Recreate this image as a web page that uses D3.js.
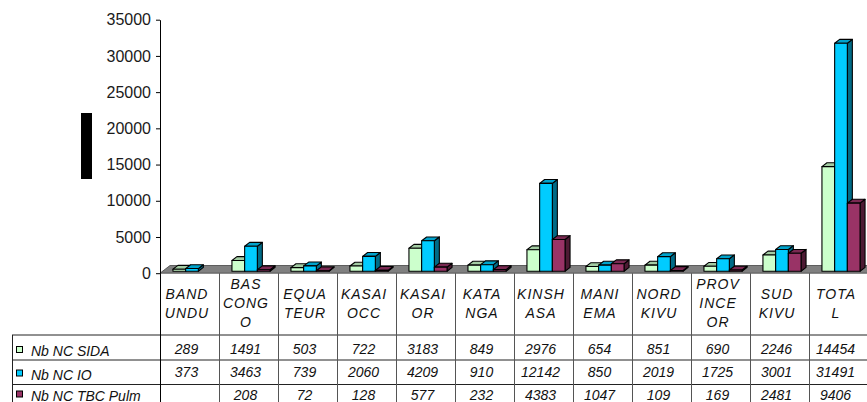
<!DOCTYPE html>
<html>
<head>
<meta charset="utf-8">
<script src="https://cdn.jsdelivr.net/npm/d3@7"></script>
<style>
  html, body { margin: 0; padding: 0; background: #fff; }
  svg { display: block; font-family: "Liberation Sans", Arial, sans-serif; }
</style>
</head>
<body>
<svg id="chart" width="867" height="402"></svg>
<script>
// ---- data ----
const categories = ["BANDUNDU","BAS CONGO","EQUATEUR","KASAI OCC","KASAI OR","KATANGA","KINSHASA","MANIEMA","NORD KIVU","PROVINCE OR","SUD KIVU","TOTAL"];
const categoryLines = [["BAND","UNDU"],["BAS","CONG","O"],["EQUA","TEUR"],["KASAI","OCC"],["KASAI","OR"],["KATA","NGA"],["KINSH","ASA"],["MANI","EMA"],["NORD","KIVU"],["PROV","INCE","OR"],["SUD","KIVU"],["TOTA","L"]];
const seriesNames = ["Nb NC SIDA","Nb NC IO","Nb NC TBC Pulm"];
const sida = [289,1491,503,722,3183,849,2976,654,851,690,2246,14454];
const io   = [373,3463,739,2060,4209,910,12142,850,2019,1725,3001,31491];
const tbc  = [null,208,72,128,577,232,4383,1047,109,169,2481,9406];
const yTicks = [0,5000,10000,15000,20000,25000,30000,35000];

const seriesValues = [sida, io, tbc];
const colors = [
  {front:"#ccffcc", top:"#a3cca3", side:"#7a997a"},
  {front:"#00ccff", top:"#00a3cc", side:"#006b87"},
  {front:"#993366", top:"#7a2952", side:"#4d1a33"}
];

const svg = d3.select("#chart");

// ---- scales ----
const x0 = d3.scaleBand().domain(categories).range([160, 868]).padding(0);
const x1 = d3.scaleBand().domain(seriesNames).range([0, x0.bandwidth()]).paddingInner(0).paddingOuter(0.823);
const y = d3.scaleLinear().domain([0, 35000]).range([273.2, 19.7]);

// 3D depth
const floorDx = 10, floorDy = -7.7;
const shiftX = floorDx * 0.25, shiftY = floorDy * 0.25;
const barDx = floorDx * 0.5, barDy = floorDy * 0.5;

// ---- y axis title block ----
svg.append("rect").attr("x", 81).attr("y", 113).attr("width", 11).attr("height", 66).attr("fill", "#000");

// ---- floor ----
const fx0 = 160, fx1 = 868, fy = y(0);
svg.append("path")
  .attr("d", `M${fx0},${fy} L${fx0+floorDx},${fy+floorDy} L${fx1+floorDx},${fy+floorDy} L${fx1},${fy} Z`)
  .attr("fill", "#808080").attr("stroke", "#444").attr("stroke-width", 0.8);

// ---- bars ----
const barsG = svg.append("g");
categories.forEach((c, ci) => {
  seriesNames.forEach((s, si) => {
    const v = seriesValues[si][ci];
    if (v == null) return;
    const x = x0(c) + x1(s) + shiftX;
    const w = x1.bandwidth();
    const bottom = y(0) + shiftY;
    const top = y(v) + shiftY;
    const col = colors[si];
    const g = barsG.append("g").attr("stroke", "#000").attr("stroke-width", 1.1).attr("stroke-linejoin", "round");
    g.append("path")
      .attr("d", `M${x+w},${top} L${x+w+barDx},${top+barDy} L${x+w+barDx},${bottom+barDy} L${x+w},${bottom} Z`)
      .attr("fill", col.side);
    g.append("path")
      .attr("d", `M${x},${top} L${x+barDx},${top+barDy} L${x+w+barDx},${top+barDy} L${x+w},${top} Z`)
      .attr("fill", col.top);
    g.append("rect").attr("x", x).attr("y", top).attr("width", w).attr("height", bottom - top)
      .attr("fill", col.front);
  });
});

// ---- y axis ----
const axis = d3.axisLeft(y).tickValues(yTicks).tickSize(4).tickSizeOuter(0).tickPadding(5).tickFormat(d3.format("d"));
const ag = svg.append("g").attr("transform", "translate(160,0)").call(axis);
ag.select(".domain").attr("stroke", "#000").attr("stroke-width", 1);
ag.selectAll(".tick line").attr("stroke", "#000");
ag.selectAll(".tick text").attr("font-size", 16).attr("fill", "#1a1a1a")
  .attr("font-family", "'Liberation Sans', Arial, sans-serif");

// ---- data table ----
const tableG = svg.append("g");
const lineColor = "#222";
[335, 360, 384.5].forEach(yy => {
  tableG.append("line").attr("x1", 12).attr("x2", 867).attr("y1", yy).attr("y2", yy)
    .attr("stroke", lineColor).attr("stroke-width", 1);
});
tableG.append("line").attr("x1", 12.5).attr("x2", 12.5).attr("y1", 335).attr("y2", 402)
  .attr("stroke", lineColor).attr("stroke-width", 1);
categories.forEach((c, ci) => {
  const xx = Math.round(x0(c)) + 0.5;
  tableG.append("line").attr("x1", xx).attr("x2", xx).attr("y1", fy).attr("y2", 402)
    .attr("stroke", ci === 0 ? "#000" : "#555").attr("stroke-width", 1);
});

// category header labels
categories.forEach((c, ci) => {
  const lines = categoryLines[ci];
  const cx = x0(c) + x0.bandwidth() / 2 - 2.5;
  const n = lines.length;
  lines.forEach((ln, li) => {
    tableG.append("text")
      .attr("x", cx)
      .attr("y", 303 + 5 + (li - (n - 1) / 2) * 19)
      .attr("text-anchor", "middle")
      .attr("font-size", 14).attr("font-style", "italic").attr("letter-spacing", 1)
      .attr("fill", "#111")
      .text(ln);
  });
});

// values
const valueBaselines = [353.5, 377, 399.5];
const legendBaselines = [356, 379.5, 400.5];
seriesNames.forEach((s, si) => {
  tableG.append("rect").attr("x", 16.5).attr("y", legendBaselines[si] - 9.5).attr("width", 6).attr("height", 6)
    .attr("fill", colors[si].front).attr("stroke", "#000").attr("stroke-width", 1);
  tableG.append("text").attr("x", 31).attr("y", legendBaselines[si])
    .attr("font-size", 14).attr("font-style", "italic").attr("fill", "#111")
    .text(s);
  categories.forEach((c, ci) => {
    const v = seriesValues[si][ci];
    if (v == null) return;
    tableG.append("text")
      .attr("x", x0(c) + x0.bandwidth() / 2 - 3)
      .attr("y", valueBaselines[si])
      .attr("text-anchor", "middle")
      .attr("font-size", 14).attr("font-style", "italic").attr("fill", "#111")
      .text(v);
  });
});
</script>
</body>
</html>
